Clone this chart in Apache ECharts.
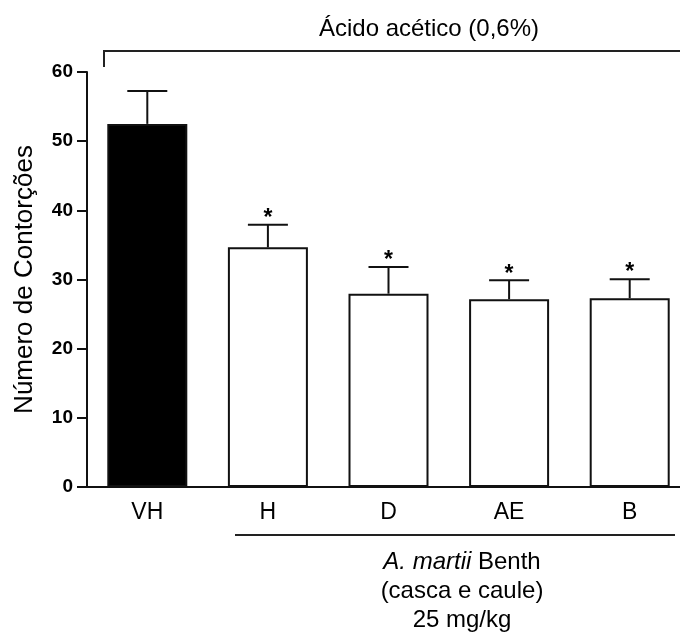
<!DOCTYPE html>
<html>
<head>
<meta charset="utf-8">
<script src="https://cdn.jsdelivr.net/npm/echarts@6/dist/echarts.min.js"></script>
<style>
  html, body { margin: 0; padding: 0; background: #fff; }
  #chart { width: 680px; height: 635px; }
</style>
</head>
<body>
<div id="chart"></div>
<script>
// dados
const categories = ["VH", "H", "D", "AE", "B"];
const means = [52.5, 34.65, 27.95, 27.15, 27.3];
const sems = [4.75, 3.25, 3.85, 2.75, 2.75];
const stars = ["", "*", "*", "*", "*"];
const yTicks = [0, 10, 20, 30, 40, 50, 60];
const barColors = ["#000000", "#ffffff", "#ffffff", "#ffffff", "#ffffff"];

const FONT = "'Liberation Sans', Arial, sans-serif";

var chart = echarts.init(document.getElementById("chart"));

const option = {
  animation: false,
  backgroundColor: "#fff",
  grid: {
    left: 87,
    top: 72,
    bottom: 148,
    width: 603,
    containLabel: false,
    outerBoundsMode: "none"
  },
  xAxis: {
    type: "category",
    data: categories,
    axisLine: { lineStyle: { color: "#111", width: 2 } },
    axisTick: { alignWithLabel: true, length: 9, lineStyle: { color: "#111", width: 2 } },
    axisLabel: { color: "#000", fontSize: 23, fontFamily: FONT, margin: 14 }
  },
  yAxis: {
    type: "value",
    min: yTicks[0],
    max: yTicks[yTicks.length - 1],
    interval: 10,
    name: "Número de Contorções",
    nameLocation: "middle",
    nameGap: 49,
    nameTextStyle: { color: "#000", fontSize: 26, fontFamily: FONT },
    splitLine: { show: false },
    axisLine: { show: true, lineStyle: { color: "#111", width: 2 } },
    axisTick: { show: true, length: 10, lineStyle: { color: "#111", width: 2 } },
    axisLabel: { color: "#000", fontSize: 19, fontWeight: "bold", fontFamily: FONT, margin: 14 }
  },
  series: [
    {
      type: "bar",
      barWidth: 80,
      data: means.map((v, i) => ({
        value: v,
        itemStyle: { color: barColors[i], borderColor: "#111", borderWidth: 2 }
      }))
    },
    {
      // barras de erro + asteriscos
      type: "custom",
      z: 5,
      data: categories.map((c, i) => [i, means[i], sems[i]]),
      renderItem: function (params, api) {
        var i = api.value(0);
        var base = api.coord([i, api.value(1)]);
        var top = api.coord([i, api.value(1) + api.value(2)]);
        var half = 20;
        var st = { stroke: "#111", lineWidth: 2 };
        return {
          type: "group",
          children: [
            { type: "line", shape: { x1: base[0], y1: base[1], x2: top[0], y2: top[1] }, style: st },
            { type: "line", shape: { x1: top[0] - half, y1: top[1], x2: top[0] + half, y2: top[1] }, style: st },
            {
              type: "text",
              x: top[0],
              y: top[1] - 6,
              style: {
                text: stars[i],
                fill: "#000",
                font: "bold 23px " + FONT,
                align: "center",
                verticalAlign: "middle"
              }
            }
          ]
        };
      }
    }
  ],
  graphic: [
    {
      type: "polyline",
      shape: { points: [[104, 67], [104, 51], [682, 51]] },
      style: { stroke: "#222", lineWidth: 2, fill: null }
    },
    {
      type: "text",
      x: 429,
      y: 29,
      style: { text: "Ácido acético (0,6%)", fill: "#000", font: "24px " + FONT, align: "center", verticalAlign: "middle" }
    },
    {
      type: "line",
      shape: { x1: 235, y1: 535, x2: 675, y2: 535 },
      style: { stroke: "#222", lineWidth: 2 }
    },
    {
      type: "text",
      x: 462,
      y: 562,
      style: {
        text: "{i|A. martii} Benth",
        fill: "#000",
        font: "24px " + FONT,
        align: "center",
        verticalAlign: "middle",
        rich: { i: { fontStyle: "italic", fontSize: 24, fontFamily: FONT, fill: "#000" } }
      }
    },
    {
      type: "text",
      x: 462,
      y: 591,
      style: { text: "(casca e caule)", fill: "#000", font: "24px " + FONT, align: "center", verticalAlign: "middle" }
    },
    {
      type: "text",
      x: 462,
      y: 620,
      style: { text: "25 mg/kg", fill: "#000", font: "24px " + FONT, align: "center", verticalAlign: "middle" }
    }
  ]
};

chart.setOption(option);
</script>
</body>
</html>
